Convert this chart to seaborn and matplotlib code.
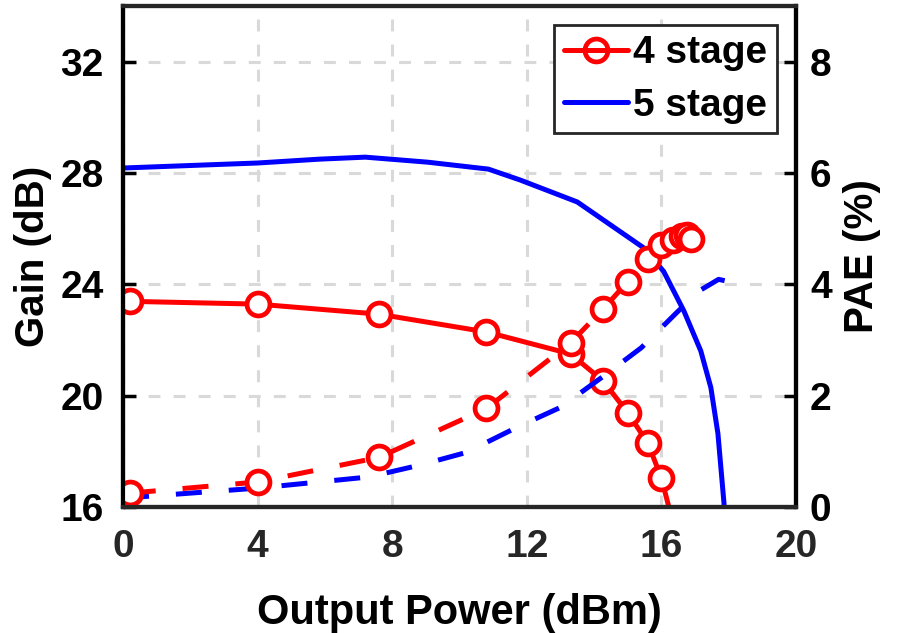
import matplotlib
matplotlib.use("Agg")
import matplotlib.pyplot as plt
from matplotlib.lines import Line2D
import seaborn as sns
import pandas as pd

# ---- data -------------------------------------------------------------
# 4-stage amplifier: output power (dBm), gain (dB), PAE (%)
pout_4 = [0.2, 4.0, 7.6, 10.8, 13.3, 14.26, 15.0, 15.6, 16.0, 16.35, 16.6, 16.75, 16.87]
gain_4 = [23.39, 23.29, 22.93, 22.29, 21.5, 20.54, 19.39, 18.29, 17.04, 15.4, 14.5, 13.7, 13.0]
pae_4 = [0.25, 0.45, 0.89, 1.77, 2.95, 3.55, 4.05, 4.45, 4.71, 4.80, 4.87, 4.88, 4.82]

# 5-stage amplifier: gain sweep
pout_5g = [0.0, 4.0, 5.86, 7.2, 9.05, 10.86, 11.8, 13.5, 15.5, 16.07, 16.67, 17.17, 17.47, 17.68, 17.86, 17.95]
gain_5 = [28.18, 28.36, 28.5, 28.57, 28.39, 28.14, 27.75, 26.96, 25.29, 24.46, 23.04, 21.61, 20.29, 18.64, 16.14, 14.5]

# 5-stage amplifier: PAE sweep
pout_5p = [0.0, 4.0, 7.3, 8.8, 10.2, 11.7, 13.0, 14.3, 15.4, 16.5, 17.17, 17.7, 18.0, 18.05]
pae_5 = [0.16, 0.34, 0.54, 0.75, 0.98, 1.43, 1.79, 2.36, 2.86, 3.52, 3.90, 4.09, 4.05, 3.98]

x_ticks = [0, 4, 8, 12, 16, 20]
gain_ticks = [16, 20, 24, 28, 32]
pae_ticks = [0, 2, 4, 6, 8]
series_names = ["4 stage", "5 stage"]

# ---- style ------------------------------------------------------------
sns.set_theme(style="white")
plt.rcParams["font.family"] = ["Liberation Sans", "DejaVu Sans"]
plt.rcParams["font.weight"] = "bold"
plt.rcParams["axes.labelweight"] = "bold"

RED = "#ff0000"
BLUE = "#0000ff"
DARK = "#262626"
LW = 3.6
DASH = (0, (5.2, 5.4))
MS = 16.5
MEW = 3.4

fig = plt.figure(figsize=(8.98, 6.33), dpi=100)
ax = fig.add_axes([0.137, 0.199, 0.7494, 0.7915])
ax2 = ax.twinx()

df4 = pd.DataFrame({"pout": pout_4, "gain": gain_4, "pae": pae_4})
df5g = pd.DataFrame({"pout": pout_5g, "gain": gain_5})
df5p = pd.DataFrame({"pout": pout_5p, "pae": pae_5})

marker_kw = dict(marker="o", markersize=MS, markeredgewidth=MEW,
                 markerfacecolor="white", markeredgecolor=RED)

# gain curves on the left axis
sns.lineplot(data=df5g, x="pout", y="gain", ax=ax, color=BLUE, linewidth=LW,
             sort=False, estimator=None, legend=False)
sns.lineplot(data=df4, x="pout", y="gain", ax=ax, color=RED, linewidth=LW,
             sort=False, estimator=None, legend=False, **marker_kw)

# PAE curves on the right axis
sns.lineplot(data=df5p, x="pout", y="pae", ax=ax2, color=BLUE, linewidth=LW,
             linestyle=DASH, sort=False, estimator=None, legend=False)
sns.lineplot(data=df4, x="pout", y="pae", ax=ax2, color=RED, linewidth=LW,
             linestyle=DASH, sort=False, estimator=None, legend=False, **marker_kw)

# ---- axes -------------------------------------------------------------
ax.set_xlim(0, 20)
ax.set_ylim(16, 34)
ax2.set_ylim(0, 9)
ax.set_xticks(x_ticks)
ax.set_yticks(gain_ticks)
ax2.set_yticks(pae_ticks)

ax.grid(True, color="#d9d9d9", linewidth=2.2, linestyle=(0, (3.9, 4.3)))
ax.set_axisbelow(True)
ax2.grid(False)

ax.set_xlabel("Output Power (dBm)", fontsize=30, color="black", labelpad=20)
ax.set_ylabel("Gain (dB)", fontsize=29, color="black", labelpad=6)
ax2.set_ylabel("PAE (%)", fontsize=29, color="black", labelpad=8)

ax.tick_params(axis="x", direction="in", length=9, width=2.5, colors=DARK,
               labelsize=28, pad=16)
ax.tick_params(axis="y", direction="in", length=9, width=2.5, colors="black",
               labelsize=28, pad=14)
ax2.tick_params(axis="y", direction="in", length=9, width=2.5, colors="black",
                labelsize=28, pad=10)

for a in (ax, ax2):
    for side, sp in a.spines.items():
        sp.set_linewidth(3.0)
        sp.set_color(DARK if side in ("top", "bottom") else "black")
        sp.set_visible(True)

# ---- legend -----------------------------------------------------------
handles = [
    Line2D([], [], color=RED, lw=LW, marker="o", markersize=MS,
           markeredgewidth=MEW, markerfacecolor="none", markeredgecolor=RED),
    Line2D([], [], color=BLUE, lw=LW),
]
leg = ax2.legend(handles, series_names, loc="upper right", fontsize=28,
                 frameon=True, fancybox=False, framealpha=1, edgecolor=DARK,
                 labelcolor="black",
                 handlelength=1.65, handletextpad=0.12, borderpad=0.25,
                 labelspacing=0.42, borderaxespad=0.5)
leg.get_frame().set_linewidth(2.0)

fig.savefig("out.png", dpi=100)
